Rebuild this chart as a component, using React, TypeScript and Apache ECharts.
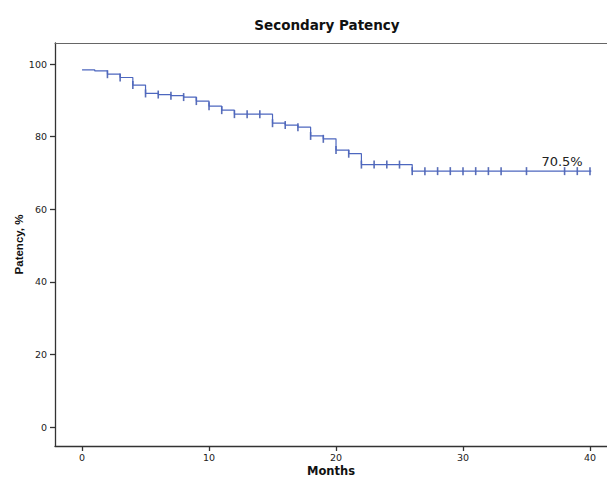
import React, { useEffect, useRef } from "react";
import * as echarts from "echarts";

// Kaplan–Meier step curve (time in months, patency %)
const eventTimes = [0, 1, 2, 3, 4, 5, 6, 7, 8, 9, 10, 11, 12, 15, 16, 17, 18, 19, 20, 21, 22, 26, 40.1];
const survival = [98.4, 98.1, 97.2, 96.3, 94.2, 91.9, 91.6, 91.3, 90.9, 89.8, 88.4, 87.3, 86.2, 83.7, 83.2, 82.6, 80.2, 79.4, 76.3, 75.3, 72.3, 70.5, 70.5];
// censored observations
const censorTimes = [2, 3, 4, 5, 6, 7, 8, 9, 10, 11, 12, 13, 14, 15, 16, 17, 18, 19, 20, 21, 22, 23, 24, 25, 26, 27, 28, 29, 30, 31, 32, 33, 35, 38, 39, 40];
const xTicks = [0, 10, 20, 30, 40];
const yTicks = [0, 20, 40, 60, 80, 100];
const finalLabel = "70.5%";
const finalLabelTime = 37.8;

function survivalAt(t: number): number {
  let v = survival[0];
  for (let i = 0; i < eventTimes.length; i++) {
    if (eventTimes[i] <= t) v = survival[i];
  }
  return v;
}

export default function App() {
  const ref = useRef<HTMLDivElement>(null);
  useEffect(() => {
    if (!ref.current) return;
    const chart = echarts.init(ref.current, null, { renderer: "svg" });
    const lineColor = "#4d67bf";
    const axisColor = "#333";
    const tickFont = { fontFamily: "DejaVu Sans", fontSize: 9.5, color: "#222" };
    chart.setOption({
      animation: false,
      backgroundColor: "#fff",
      title: {
        text: "Secondary Patency",
        left: 322,
        textAlign: "center",
        top: 13,
        textStyle: { fontFamily: "DejaVu Sans", fontWeight: "bold", fontSize: 13.5, color: "#111" },
      },
      grid: { left: 55, right: 0, top: 43, bottom: 33, containLabel: false, outerBoundsMode: "none" },
      xAxis: [
        {
          type: "value",
          min: -2.13,
          max: 41.34,
          position: "bottom",
          name: "Months",
          nameLocation: "middle",
          nameGap: 19,
          nameMoveOverlap: false,
          nameTextStyle: { fontFamily: "DejaVu Sans", fontWeight: "bold", fontSize: 11.5, lineHeight: 12, color: "#111" },
          axisLine: { show: true, onZero: false, lineStyle: { color: axisColor, width: 1.3 } },
          axisTick: { show: true, length: 5, customValues: xTicks, lineStyle: { color: axisColor, width: 1.3 } },
          axisLabel: { show: true, customValues: xTicks, margin: 6, ...tickFont },
          splitLine: { show: false },
        },
        {
          type: "value",
          min: -2.13,
          max: 41.34,
          position: "top",
          axisLine: { show: true, onZero: false, lineStyle: { color: "#666", width: 1 } },
          axisTick: { show: false },
          axisLabel: { show: false },
          splitLine: { show: false },
        },
      ],
      yAxis: {
        type: "value",
        min: -5.23,
        max: 105.8,
        name: "Patency, %",
        nameLocation: "middle",
        nameRotate: 90,
        nameGap: 30,
        nameMoveOverlap: false,
        nameTextStyle: { fontFamily: "Liberation Sans", fontWeight: "bold", fontSize: 11.5, color: "#111" },
        axisLine: { show: true, onZero: false, lineStyle: { color: axisColor, width: 1.3 } },
        axisTick: { show: true, length: 5, customValues: yTicks, lineStyle: { color: axisColor, width: 1.3 } },
        axisLabel: { show: true, customValues: yTicks, margin: 8, ...tickFont },
        splitLine: { show: false },
      },
      series: [
        {
          type: "line",
          step: "end",
          xAxisIndex: 0,
          data: eventTimes.map((t, i) => [t, survival[i]]),
          symbol: "none",
          lineStyle: { color: lineColor, width: 1.2 },
          markPoint: {
            symbol: "circle",
            symbolSize: 0,
            data: [{ coord: [finalLabelTime, survival[survival.length - 1]], value: finalLabel }],
            label: {
              show: true,
              position: "top",
              distance: 3,
              formatter: finalLabel,
              fontFamily: "DejaVu Sans",
              fontSize: 13,
              color: "#222",
            },
          },
        },
        {
          type: "scatter",
          xAxisIndex: 0,
          data: censorTimes.map((t) => [t, survivalAt(t)]),
          symbol: "rect",
          symbolSize: [1.6, 8],
          itemStyle: { color: "#2f4aa6" },
        },
      ],
    });
    return () => chart.dispose();
  }, []);
  return (
    <div
      ref={ref}
      style={{ position: "absolute", left: 0, top: 0, width: 607, height: 479 }}
    />
  );
}
